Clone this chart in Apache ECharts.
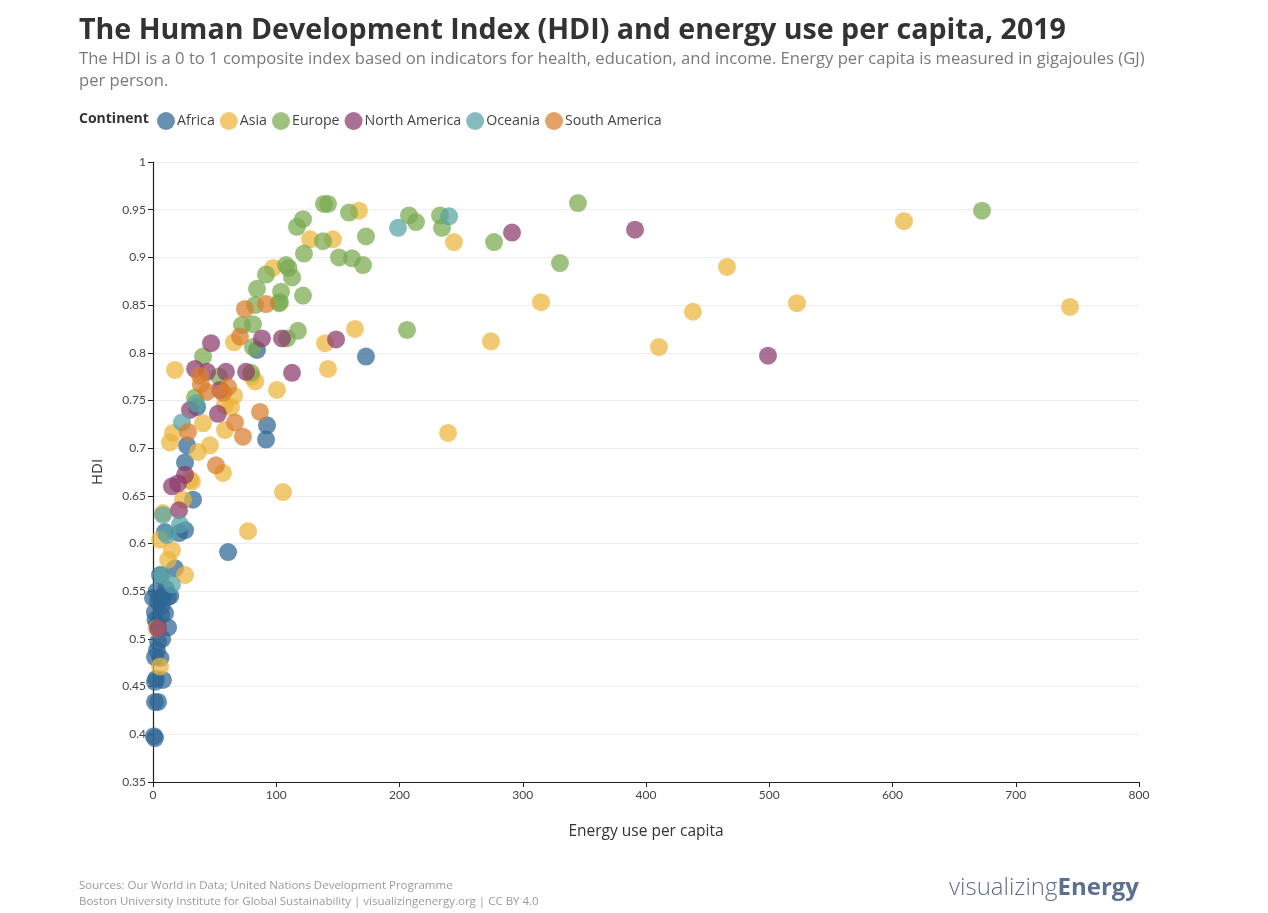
<!DOCTYPE html>
<html>
<head>
<meta charset="utf-8">
<script src="https://cdn.jsdelivr.net/npm/echarts@6/dist/echarts.min.js"></script>
<style>
html,body{margin:0;padding:0;background:#fff;}
#chart{width:1268px;height:913px;}
</style>
</head>
<body>
<div id="chart"></div>
<script>
// Energy use per capita (GJ), HDI
const continents = ['Africa','Asia','Europe','North America','Oceania','South America'];
const colors = ['#2e6593','#ebb43a','#78a94f','#8a3a6c','#56a3a6','#d97d2c'];

const africa = [
  [172.8,0.796],[84.4,0.803],[92.5,0.724],[91.7,0.709],[35.7,0.743],[27.6,0.703],
  [26,0.685],[32.5,0.646],[60.9,0.591],[26,0.614],[21.1,0.611],[9.7,0.612],
  [17.8,0.574],[5.7,0.567],[0,0.543],[5.7,0.543],[12.2,0.544],[1.6,0.528],
  [9.7,0.527],[12.2,0.512],[4.1,0.497],[3.2,0.488],[1.6,0.481],[1.6,0.455],
  [8.1,0.457],[1.6,0.434],[4.1,0.434],[1.6,0.396],[0.8,0.398],[3,0.55],
  [7,0.535],[2,0.52],[7.5,0.50],[4,0.539],[10.5,0.552],[6,0.48],[3.5,0.515],
  [14,0.545],[8,0.545],[2.5,0.458],[6.5,0.525]
];
const asia = [
  [167.1,0.949],[127.4,0.919],[146,0.919],[244.2,0.916],[97.4,0.889],[609.3,0.938],
  [465.7,0.890],[522.5,0.852],[744,0.848],[438.1,0.843],[314.8,0.853],[410.5,0.806],
  [274.2,0.812],[163.9,0.825],[139.6,0.810],[142,0.783],[65.7,0.811],[17.8,0.782],
  [100.6,0.761],[80.3,0.775],[239.4,0.716],[105.5,0.654],[77.1,0.613],[58.4,0.745],
  [63.3,0.743],[65.7,0.755],[40.6,0.726],[58.4,0.719],[46.2,0.703],[36.5,0.696],
  [16.2,0.716],[13.8,0.706],[56.8,0.674],[31.6,0.665],[24.3,0.646],[8.1,0.632],
  [5.7,0.604],[15.4,0.593],[12.2,0.583],[26,0.567],[5.7,0.471],[3.2,0.511],
  [30,0.667],[83,0.770]
];
const europe = [
  [138.7,0.956],[142,0.956],[159,0.947],[121.7,0.940],[116.8,0.932],[137.9,0.917],
  [172.8,0.922],[122.5,0.904],[150.9,0.900],[161.5,0.899],[170.4,0.892],[207.7,0.944],
  [213.4,0.937],[232.9,0.944],[234.5,0.931],[276.7,0.916],[344.8,0.957],[330.2,0.894],
  [672.6,0.949],[206.1,0.824],[117.6,0.823],[107.9,0.892],[112.8,0.879],[91.7,0.882],
  [84.4,0.867],[103.9,0.864],[103,0.853],[121.7,0.860],[82.8,0.850],[102.2,0.852],
  [72.2,0.829],[81.1,0.830],[108.7,0.815],[81.1,0.806],[40.6,0.796],[53.6,0.775],
  [79.5,0.779],[34.1,0.753],[110,0.889]
];
const northAmerica = [
  [291.3,0.926],[391.1,0.929],[499,0.797],[148.5,0.814],[47.1,0.810],[88.4,0.815],
  [104.7,0.815],[112.8,0.779],[75.5,0.780],[59.2,0.780],[43.8,0.780],[34.1,0.783],
  [54.4,0.761],[52.7,0.736],[30,0.740],[26,0.672],[20.3,0.663],[15.4,0.660],
  [21.1,0.635],[4.1,0.511]
];
const oceania = [
  [198.8,0.931],[240.2,0.943],[23.5,0.727],[8.1,0.630],[21.9,0.620],[11.4,0.609],
  [7.3,0.567],[15.4,0.557],[35,0.747]
];
const southAmerica = [
  [74.6,0.846],[91.7,0.851],[70.6,0.817],[38.1,0.776],[38.9,0.767],[43.8,0.759],
  [60.9,0.764],[56.8,0.758],[66.5,0.727],[86.8,0.738],[73,0.712],[51.1,0.682],
  [28.4,0.717]
];
const seriesData = [africa, asia, europe, northAmerica, oceania, southAmerica];

const xTicks = [0,100,200,300,400,500,600,700,800];
const yTicks = ['0.35','0.4','0.45','0.5','0.55','0.6','0.65','0.7','0.75','0.8','0.85','0.9','0.95','1'];

const FONT = '"Open Sans", Lato, sans-serif';
const TICKFONT = 'Lato, "Open Sans", sans-serif';
const chart = echarts.init(document.getElementById('chart'), null, {renderer:'canvas'});

chart.setOption({
  backgroundColor:'#fff',
  animation:false,
  textStyle:{fontFamily:FONT},
  title:[
    {text:'The Human Development Index (HDI) and energy use per capita, 2019',left:74,top:11,
     textStyle:{fontSize:28.6,fontWeight:'bold',color:'#333',fontFamily:FONT}},
    {text:'The HDI is a 0 to 1 composite index based on indicators for health, education, and income. Energy per capita is measured in gigajoules (GJ)\nper person.',
     left:74,top:43,textStyle:{fontSize:16.6,fontWeight:'normal',color:'#7a7a7a',lineHeight:22,fontFamily:FONT}}
  ],
  legend:{
    left:152, top:107, icon:'circle', itemWidth:18, itemHeight:18, itemGap:5,
    data:continents,
    textStyle:{fontSize:14.2,color:'#444',padding:[0,0,0,-3],fontFamily:FONT}
  },
  graphic:[
    {type:'text',left:79,top:112,style:{text:'Continent',font:'bold 14px '+FONT,fill:'#333'}},
    {type:'text',left:79,top:880,style:{text:'Sources: Our World in Data; United Nations Development Programme',font:'11.5px '+FONT,fill:'#9a9a9a'}},
    {type:'text',left:79,top:896,style:{text:'Boston University Institute for Global Sustainability | visualizingenergy.org | CC BY 4.0',font:'11.5px '+FONT,fill:'#9a9a9a'}},
    {type:'text',right:129,top:876,style:{
      text:'{a|visualizing}{b|Energy}',
      rich:{a:{font:'300 24px '+FONT,fill:'#5c6f8f',color:'#5c6f8f'},b:{font:'bold 24px '+FONT,fill:'#5c6f8f',color:'#5c6f8f'}}
    }}
  ],
  grid:{left:153,right:129,top:162,bottom:131,containLabel:false},
  xAxis:{
    type:'value',min:0,max:800,interval:100,
    name:'Energy use per capita',nameLocation:'middle',nameGap:42,
    nameTextStyle:{fontSize:15.5,color:'#333',fontFamily:FONT},
    axisLine:{show:true,lineStyle:{color:'#222',width:1.2}},
    axisTick:{show:true,length:5,lineStyle:{color:'#222'}},
    axisLabel:{fontSize:12,color:'#444',margin:7,fontFamily:TICKFONT,
      formatter:v=>xTicks.includes(v)?String(v):''},
    splitLine:{show:false}
  },
  yAxis:{
    type:'value',min:0.35,max:1,interval:0.05,
    name:'HDI',nameLocation:'middle',nameGap:48,nameRotate:90,
    nameTextStyle:{fontSize:15,color:'#333',fontFamily:FONT},
    axisLine:{show:true,lineStyle:{color:'#222',width:1.2}},
    axisTick:{show:true,length:5,lineStyle:{color:'#222'}},
    axisLabel:{fontSize:12,color:'#444',margin:7,fontFamily:TICKFONT,
      formatter:v=>{const s=String(Math.round(v*100)/100);return yTicks.includes(s)?s:'';}},
    splitLine:{show:true,lineStyle:{color:'#ececec',width:1}}
  },
  series: continents.map((c,i)=>({
    name:c,type:'scatter',data:seriesData[i],symbolSize:18,
    itemStyle:{color:colors[i],opacity:0.72},
    emphasis:{disabled:true}
  }))
});
</script>
</body>
</html>
